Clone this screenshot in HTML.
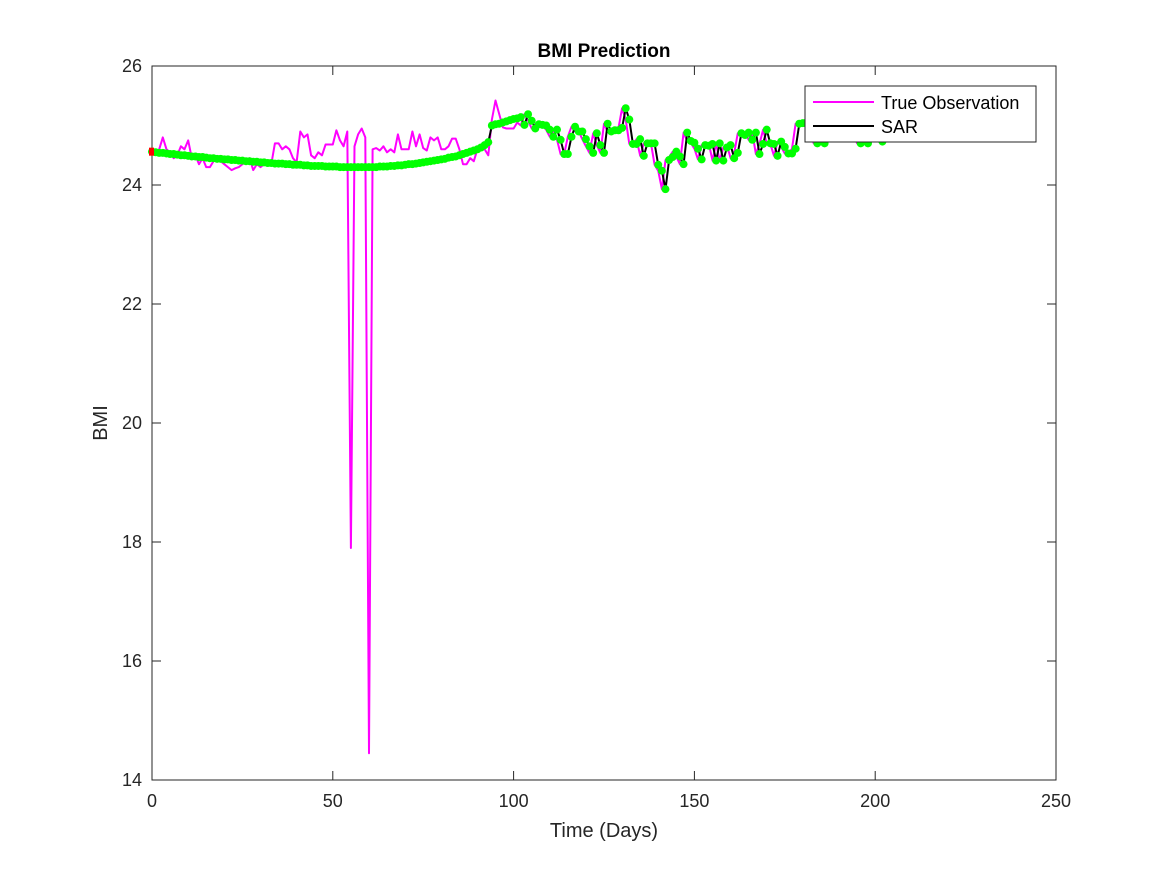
<!DOCTYPE html>
<html><head><meta charset="utf-8"><style>
body{margin:0;background:#fff}
svg{display:block;font-family:"Liberation Sans",sans-serif}
</style></head><body>
<svg id="chart" width="1167" height="875" xmlns="http://www.w3.org/2000/svg">
<rect width="1167" height="875" fill="#fff"/>
<text x="604" y="57" font-size="19" font-weight="bold" text-anchor="middle">BMI Prediction</text>
<g id="plot"></g>
<text x="604" y="837" font-size="20" text-anchor="middle" fill="#262626">Time (Days)</text>
<text transform="translate(107,423) rotate(-90)" font-size="20" text-anchor="middle" fill="#262626">BMI</text>
<g>
<rect x="805" y="86" width="231" height="56" fill="#fff" stroke="#262626" stroke-width="1"/>
<line x1="813" y1="102" x2="874" y2="102" stroke="#ff00ff" stroke-width="2"/>
<text x="881" y="109" font-size="18">True Observation</text>
<line x1="813" y1="126" x2="874" y2="126" stroke="#000" stroke-width="2"/>
<text x="881" y="133" font-size="18">SAR</text>
</g>
</svg>
<script>
const xTicks=[0,50,100,150,200,250];
const yTicks=[14,16,18,20,22,24,26];
const obsStartDay=0;
const obsValues=[24.55,24.55,24.6,24.8,24.6,24.55,24.45,24.5,24.65,24.6,24.75,24.45,24.5,24.35,24.45,24.3,24.3,24.4,24.45,24.4,24.35,24.3,24.25,24.28,24.3,24.35,24.38,24.45,24.25,24.35,24.3,24.35,24.4,24.35,24.7,24.7,24.6,24.65,24.6,24.45,24.38,24.9,24.8,24.85,24.5,24.45,24.55,24.5,24.68,24.68,24.68,24.92,24.75,24.65,24.9,17.9,24.65,24.85,24.95,24.8,14.45,24.6,24.62,24.58,24.65,24.55,24.6,24.55,24.85,24.6,24.6,24.6,24.9,24.65,24.85,24.62,24.58,24.8,24.75,24.8,24.6,24.6,24.65,24.78,24.78,24.6,24.35,24.35,24.45,24.4,24.6,24.6,24.6,24.5,25.1,25.42,25.2,24.97,24.95,24.95,24.95,25.05,25.0,25.19,25.08,24.95,25.02,25.01,25.0,24.93,24.81,24.93,24.76,24.52,24.52,24.81,24.98,24.9,24.9,24.77,24.65,24.54,24.87,24.67,24.54,25.03,24.9,24.92,24.92,24.96,25.29,25.1,24.69,24.69,24.77,24.49,24.7,24.7,24.7,24.34,24.24,23.93,24.42,24.47,24.56,24.48,24.35,24.88,24.74,24.71,24.61,24.43,24.67,24.66,24.69,24.41,24.7,24.41,24.63,24.67,24.45,24.54,24.87,24.84,24.88,24.76,24.88,24.52,24.69,24.93,24.7,24.69,24.49,24.73,24.64,24.53,24.53,24.61,25.03,25.04,25.05,24.95,24.85,24.7,24.85,24.7,24.9,24.95,24.9,25.0,24.95,24.9,24.95,24.9,24.85,24.7,24.85,24.7,24.9,24.95,24.85,24.73,24.85,24.9];
const sarStartDay=0;
const sarValues=[24.56,24.55,24.54,24.54,24.53,24.52,24.52,24.51,24.5,24.5,24.49,24.48,24.48,24.47,24.47,24.46,24.45,24.45,24.44,24.44,24.43,24.43,24.42,24.42,24.41,24.41,24.4,24.4,24.39,24.39,24.38,24.38,24.37,24.37,24.36,24.36,24.36,24.35,24.35,24.34,24.34,24.34,24.33,24.33,24.32,24.32,24.32,24.32,24.31,24.31,24.31,24.31,24.3,24.3,24.3,24.3,24.3,24.3,24.3,24.3,24.3,24.3,24.3,24.31,24.31,24.31,24.32,24.32,24.33,24.33,24.34,24.35,24.35,24.36,24.37,24.38,24.39,24.4,24.41,24.42,24.43,24.44,24.46,24.47,24.48,24.5,24.52,24.54,24.56,24.58,24.6,24.63,24.67,24.72,25.0,25.02,25.03,25.05,25.07,25.09,25.11,25.12,25.14,25.01,25.19,25.08,24.95,25.02,25.01,25.0,24.93,24.81,24.93,24.76,24.52,24.52,24.81,24.98,24.9,24.9,24.77,24.65,24.54,24.87,24.67,24.54,25.03,24.9,24.92,24.92,24.96,25.29,25.1,24.69,24.69,24.77,24.49,24.7,24.7,24.7,24.34,24.24,23.93,24.42,24.47,24.56,24.48,24.35,24.88,24.74,24.71,24.61,24.43,24.67,24.66,24.69,24.41,24.7,24.41,24.63,24.67,24.45,24.54,24.87,24.84,24.88,24.76,24.88,24.52,24.69,24.93,24.7,24.69,24.49,24.73,24.64,24.53,24.53,24.61,25.03,25.04,25.05,24.95,24.85,24.7,24.85,24.7,24.9,24.95,24.9,25.0,24.95,24.9,24.95,24.9,24.85,24.7,24.85,24.7,24.9,24.95,24.85,24.73,24.85,24.9,24.9];

const L=152,R=1056,T=66,B=780,xMin=0,xMax=250,yMin=14,yMax=26;
const sx=v=>L+(v-xMin)/(xMax-xMin)*(R-L);
const sy=v=>B-(v-yMin)/(yMax-yMin)*(B-T);
const NS='http://www.w3.org/2000/svg';
const g=document.getElementById('plot');
function mk(tag,attrs){const e=document.createElementNS(NS,tag);for(const k in attrs)e.setAttribute(k,attrs[k]);g.appendChild(e);return e;}

const box=mk('rect',{x:L,y:T,width:R-L,height:B-T,fill:'#fff',stroke:'#262626','stroke-width':1});



xTicks.forEach(t=>{
  const x=sx(t);
  const a=mk('line',{x1:x,y1:B,x2:x,y2:B-9,stroke:'#262626'});
  
  
  mk('line',{x1:x,y1:T,x2:x,y2:T+9,stroke:'#262626'});
  const tx=mk('text',{x:x,y:B+27,'font-size':18,'text-anchor':'middle',fill:'#262626'});
  tx.textContent=t;
  
  
});
yTicks.forEach(t=>{
  const y=sy(t);
  const a=mk('line',{x1:L,y1:y,x2:L+9,y2:y,stroke:'#262626'});
  
  
  mk('line',{x1:R,y1:y,x2:R-9,y2:y,stroke:'#262626'});
  const tx=mk('text',{x:L-10,y:y+6,'font-size':18,'text-anchor':'end',fill:'#262626'});
  tx.textContent=t;
  
  
});

const obsPts=obsValues.map((v,i)=>sx(obsStartDay+i).toFixed(1)+','+sy(v).toFixed(1)).join(' ');
const obs=mk('polyline',{points:obsPts,fill:'none',stroke:'#ff00ff','stroke-width':2,'stroke-linejoin':'round'});



const sarPts=sarValues.map((v,i)=>sx(sarStartDay+i).toFixed(1)+','+sy(v).toFixed(1)).join(' ');
const sar=mk('polyline',{points:sarPts,fill:'none',stroke:'#000','stroke-width':2,'stroke-linejoin':'round'});



sarValues.forEach((v,i)=>{
  const c=mk('circle',{cx:sx(sarStartDay+i),cy:sy(v),r:4,fill:'#00ff00'});
  
  
});
const red=mk('rect',{x:sx(0)-3,y:sy(sarValues[0])-4,width:5,height:8,fill:'#ff0000'});


</script>
</body></html>
